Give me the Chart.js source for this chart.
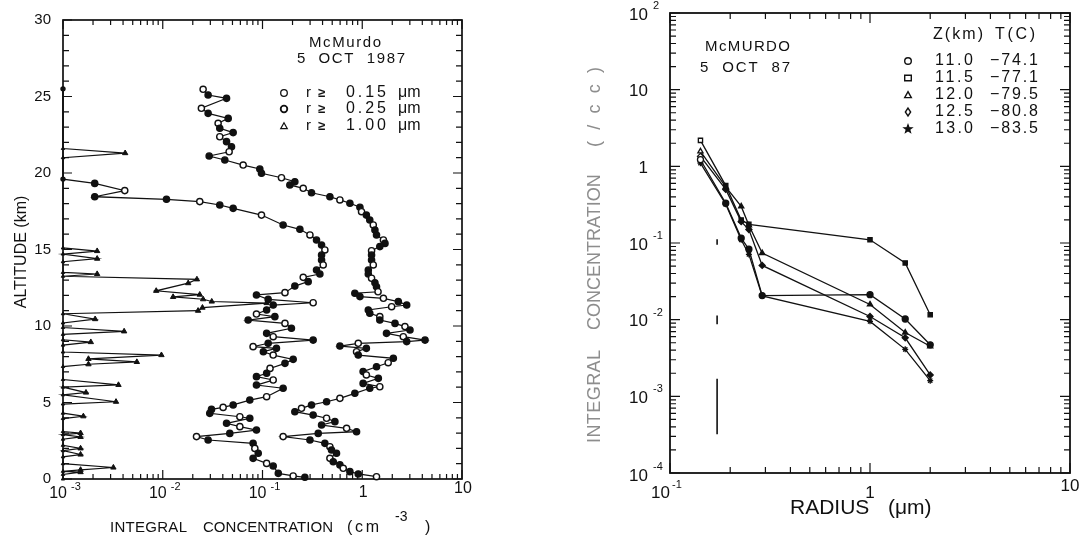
<!DOCTYPE html>
<html><head><meta charset="utf-8">
<script src="https://cdn.jsdelivr.net/npm/chart.js@4.4.1/dist/chart.umd.min.js"></script>
<style>
html,body{margin:0;padding:0;background:#fff;}
#wrap{position:relative;width:1088px;height:541px;overflow:hidden;background:#fff;}
canvas{position:absolute;top:0;}
</style></head><body>
<div id="wrap"><canvas id="c1" width="544" height="541" style="left:0"></canvas><canvas id="c2" width="544" height="541" style="left:544px"></canvas></div>
<script>
// ---------- LEFT PANEL DATA (altitude km, integral concentration cm^-3) ----------
const alt015 = [25.47,25.1,24.88,24.23,23.9,23.57,23.25,22.92,22.64,22.37,22.05,21.72,21.39,21.11,20.85,20.52,20.26,19.98,19.69,19.43,19.22,19.0,18.71,18.45,18.24,18.02,17.76,17.47,17.25,16.93,16.6,16.27,15.95,15.62,15.4,15.19,14.92,14.64,14.31,13.99,13.66,13.4,13.12,12.83,12.57,12.24,12.14,11.92,11.81,11.59,11.37,11.26,11.05,10.83,10.61,10.39,10.17,9.96,9.74,9.52,9.3,9.08,8.98,8.87,8.69,8.54,8.32,8.1,7.89,7.6,7.34,7.02,6.8,6.58,6.25,6.03,5.93,5.6,5.27,5.05,4.84,4.62,4.4,4.18,3.97,3.75,3.53,3.31,3.09,2.98,2.77,2.55,2.33,2.11,1.9,1.68,1.35,1.13,0.92,0.7,0.48,0.33,0.15];
const conc015 = [0.0254,0.0285,0.0436,0.0244,0.0285,0.0453,0.0359,0.0373,0.0508,0.0373,0.0436,0.0489,0.0463,0.0292,0.0419,0.064,0.094,0.0977,0.155,0.211,0.188,0.256,0.31,0.474,0.597,0.752,0.948,0.984,1.10,1.19,1.29,1.34,1.39,1.63,1.69,1.50,1.24,1.24,1.24,1.29,1.15,1.15,1.24,1.34,1.39,1.44,0.843,0.948,1.63,2.30,2.79,1.97,1.15,1.19,1.50,1.50,2.13,2.68,3.01,1.75,2.58,4.26,2.79,0.912,0.597,1.10,0.877,0.912,2.05,1.82,1.39,1.02,1.10,1.45,1.02,1.50,1.19,0.843,0.597,0.439,0.31,0.246,0.211,0.322,0.439,0.532,0.391,0.697,0.877,0.362,0.161,0.299,0.422,0.474,0.492,0.552,0.474,0.512,0.597,0.645,0.752,0.912,1.39];
const alt025 = [25.5,19.6,19.32,18.85,18.45,18.28,18.13,17.91,17.69,17.25,16.6,16.32,15.95,15.62,15.29,14.97,14.64,14.31,13.99,13.66,13.4,13.18,12.9,12.61,12.18,12.03,11.74,11.52,11.37,11.05,10.78,10.61,10.39,10.17,9.85,9.52,9.3,9.08,8.87,8.65,8.54,8.32,8.1,7.82,7.56,7.23,6.91,6.69,6.47,6.14,5.93,5.38,5.16,4.84,4.68,4.55,4.29,4.07,3.97,3.64,3.42,3.2,2.98,2.77,2.55,2.33,2.0,1.68,1.35,1.02,0.85,0.37,0.2,0.11];
const conc025 = [0.001,0.001,0.00208,0.00416,0.00208,0.0109,0.0235,0.0373,0.0508,0.0977,0.161,0.237,0.299,0.348,0.391,0.422,0.391,0.391,0.406,0.348,0.376,0.256,0.287,0.211,0.168,0.087,0.114,0.322,0.128,0.11,0.087,0.133,0.0718,0.168,0.195,0.11,0.128,0.322,0.114,0.0805,0.138,0.102,0.128,0.203,0.168,0.119,0.11,0.087,0.128,0.087,0.161,0.11,0.0746,0.0508,0.0403,0.0308,0.0296,0.0593,0.0746,0.0436,0.0593,0.087,0.047,0.0218,0.0285,0.0805,0.0838,0.0906,0.0805,0.11,0.128,0.144,0.203,0.266];
const alt100 = [25.5,21.6,21.3,21.0,15.1,14.9,14.7,14.4,14.2,13.5,13.4,13.25,13.05,12.8,12.3,12.05,11.9,11.75,11.6,11.5,11.2,11.0,10.8,10.45,10.2,9.9,9.65,9.45,9.1,8.95,8.75,8.3,8.1,7.85,7.65,7.5,7.35,6.5,6.15,6.0,5.65,5.5,5.05,4.9,4.3,4.1,3.95,3.1,3.0,2.9,2.75,2.6,2.2,2.0,1.85,1.6,1.45,1.0,0.75,0.6,0.5,0.45,0.3,0.0];
const conc100 = [0.001,0.001,0.0042,0.001,0.001,0.0022,0.001,0.0022,0.001,0.001,0.0022,0.001,0.022,0.018,0.0086,0.0235,0.0127,0.0254,0.031,0.11,0.025,0.0226,0.001,0.0021,0.001,0.001,0.0041,0.001,0.001,0.0019,0.001,0.001,0.0097,0.0018,0.0055,0.0018,0.001,0.001,0.0036,0.001,0.0017,0.001,0.0034,0.001,0.001,0.0016,0.001,0.001,0.0015,0.001,0.0015,0.001,0.001,0.0015,0.001,0.0015,0.001,0.001,0.0032,0.0015,0.001,0.0015,0.001,0.001];
const leftYTicks = [0,5,10,15,20,25,30];
const leftXTicks = [0.001,0.01,0.1,1,10];
const leftXBase  = ['10','10','10','1','10'];
const leftXSup   = ['-3','-2','-1','',''];
const leftLegend = ['0.15','0.25','1.00'];

// ---------- RIGHT PANEL DATA (radius um, integral concentration /cc) ----------
const radii = [0.142,0.19,0.227,0.248,0.289,1.0,1.5,2.0];
const n110 = [1.22,0.33,0.116,0.083,0.0206,0.0212,0.0102,0.0047];
const n115 = [2.18,0.56,0.20,0.175,null,0.11,0.055,0.0116];
const n120 = [1.57,0.54,0.30,0.17,0.074,0.0158,0.0068,0.0045];
const n125 = [1.35,0.50,0.19,0.15,0.051,0.011,0.0058,0.0019];
const n130 = [1.10,0.32,0.11,0.071,0.0204,0.0095,0.0041,0.0016];
const barX = 0.172;
const barLow  = [0.095,0.0087,0.00032];
const barHigh = [0.112,0.0113,0.0017];
const zLabels = ['11.0','11.5','12.0','12.5','13.0'];
const tLabels = ['\u221274.1','\u221277.1','\u221279.5','\u221280.8','\u221283.5'];
const rightYTicks = [100,10,1,0.1,0.01,0.001,0.0001];
const rightYBase = ['10','10','1','10','10','10','10'];
const rightYSup  = ['2','','','-1','-2','-3','-4'];
const rightXTicks = [0.1,1,10];
const rightXBase = ['10','1','10'];
const rightXSup  = ['-1','',''];

// ---------- helpers ----------
const FONT = '"Liberation Sans", Arial, Helvetica, sans-serif';
Chart.defaults.font.family = FONT;
const INK = '#111';

function pairs(xs, ys){ const out=[]; const n=Math.min(xs.length, ys.length); for(let i=0;i<n;i++){ if(ys[i]!==null && xs[i]!==null) out.push({x:xs[i], y:ys[i]}); } return out; }
function logTickList(min, max){
  const out=[]; const e0=Math.round(Math.log10(min)), e1=Math.round(Math.log10(max));
  for(let e=e0;e<e1;e++){ for(let m=1;m<10;m++){ out.push({v:m*Math.pow(10,e), major:m===1}); } }
  out.push({v:max, major:true}); return out;
}
function font(size){ return size+'px '+FONT; }
function supLabel(ctx, base, sup, x, y, size, supSize, anchor, gap, rise){
  ctx.letterSpacing='0px';
  ctx.font=font(size); const bw=ctx.measureText(base).width;
  ctx.font=font(supSize); const sw = sup ? ctx.measureText(sup).width + gap : 0;
  let x0;
  if(anchor==='baseRight') x0 = x - bw;
  else if(anchor==='right') x0 = x - bw - sw;
  else x0 = x - (bw+sw)/2;
  ctx.textAlign='left'; ctx.textBaseline='middle';
  ctx.font=font(size); ctx.fillText(base, x0, y);
  if(sup){ ctx.font=font(supSize); ctx.fillText(sup, x0+bw+gap, y-rise); }
}
function fitText(ctx, text, x, y, width){
  ctx.letterSpacing='0px';
  const w=ctx.measureText(text).width; const n=[...text].length;
  const ls = n>1 ? Math.max(0,(width-w)/(n-1)) : 0;
  ctx.letterSpacing = ls.toFixed(2)+'px';
  ctx.textAlign='left';
  ctx.fillText(text, x, y);
  ctx.letterSpacing='0px';
}
function marker(ctx, style, x, y, r, fill){
  ctx.beginPath();
  if(style==='circle'){ ctx.arc(x,y,r,0,Math.PI*2); }
  else if(style==='rect'){ ctx.rect(x-r,y-r*0.85,2*r,1.7*r); }
  else if(style==='triangle'){ ctx.moveTo(x,y-r); ctx.lineTo(x+r,y+r*0.8); ctx.lineTo(x-r,y+r*0.8); ctx.closePath(); }
  else if(style==='diamond'){ ctx.moveTo(x,y-r*1.2); ctx.lineTo(x+r*0.8,y); ctx.lineTo(x,y+r*1.2); ctx.lineTo(x-r*0.8,y); ctx.closePath(); }
  else if(style==='star'){ for(let i=0;i<10;i++){ const a=-Math.PI/2+i*Math.PI/5; const rr=i%2?r*0.5:r*1.2; const px=x+rr*Math.cos(a), py=y+rr*Math.sin(a); if(i===0) ctx.moveTo(px,py); else ctx.lineTo(px,py);} ctx.closePath(); }
  ctx.fillStyle = fill ? INK : '#fff'; ctx.fill();
  ctx.stroke();
}

// ---------- LEFT CHART ----------
const hollowEvery = (c)=> {
  const d = c.raw; if(d && d.x <= 0.001) return INK;
  return (c.dataIndex % 3 === 0 ? '#fff' : INK);
};
const axisSmall = (c)=> (c.raw && c.raw.x <= 0.001 ? 2 : 3.1);
const leftDeco = {
  id:'leftDeco',
  beforeDatasetsDraw(chart){
    const {ctx, chartArea:a, scales:{x,y}} = chart;
    ctx.save(); ctx.strokeStyle=INK; ctx.lineWidth=1.7;
    ctx.strokeRect(a.left,a.top,a.right-a.left,a.bottom-a.top);
    ctx.lineWidth=1.2; ctx.beginPath();
    logTickList(0.001,10).forEach(t=>{ const px=x.getPixelForValue(t.v); const L=t.major?9:5;
      ctx.moveTo(px,a.bottom); ctx.lineTo(px,a.bottom-L); ctx.moveTo(px,a.top); ctx.lineTo(px,a.top+L); });
    for(let k=0;k<=30;k++){ const py=y.getPixelForValue(k); const L=k%5===0?9:6;
      ctx.moveTo(a.left,py); ctx.lineTo(a.left+L,py); ctx.moveTo(a.right,py); ctx.lineTo(a.right-L,py); }
    ctx.stroke(); ctx.restore();
  },
  afterDraw(chart){
    const {ctx, chartArea:a, scales:{x,y}} = chart;
    ctx.save(); ctx.fillStyle=INK;
    ctx.font=font(15); ctx.textAlign='right'; ctx.textBaseline='middle';
    leftYTicks.forEach(v=> ctx.fillText(String(v), 51, y.getPixelForValue(v)));
    leftXTicks.forEach((v,i)=>{ const px=x.getPixelForValue(v);
      if(leftXSup[i]) supLabel(ctx, leftXBase[i], leftXSup[i], px+4, 494, 16, 11, 'baseRight', 4, 7);
      else supLabel(ctx, leftXBase[i], '', px+1, i===4?489:493, 16, 11, 'center', 0, 0);
    });
    // x title
    ctx.font=font(15); ctx.textBaseline='middle'; ctx.textAlign='left';
    fitText(ctx,'INTEGRAL',110,528,77);
    fitText(ctx,'CONCENTRATION',203,528,130);
    ctx.font=font(16); fitText(ctx,'(cm',347,528,32);
    ctx.font=font(14); ctx.fillText('-3',395,517);
    ctx.font=font(16); ctx.fillText(')',425,528);
    // y title
    ctx.save(); ctx.translate(22,252); ctx.rotate(-Math.PI/2);
    ctx.font=font(16); ctx.textAlign='center'; ctx.textBaseline='middle';
    ctx.fillText('ALTITUDE (km)',0,0); ctx.restore();
    // annotation
    ctx.font=font(15); ctx.textBaseline='middle';
    fitText(ctx,'McMurdo',309,43,72);
    fitText(ctx,'5  OCT  1987',297,59,108);
    // legend
    const rows=[93,109,126];
    ctx.strokeStyle=INK; ctx.lineWidth=1.3;
    marker(ctx,'circle',284,rows[0],3.3,false);
    ctx.lineWidth=1.8; marker(ctx,'circle',284,rows[1],3.3,false);
    ctx.lineWidth=1.2; marker(ctx,'triangle',284,rows[2],3.3,false);
    ctx.fillStyle=INK;
    rows.forEach((ry,i)=>{
      ctx.font=font(15); ctx.textAlign='left';
      ctx.fillText('r',306,ry);
      ctx.font='bold 13px '+FONT; ctx.fillText('\u2265',318,ry);
      ctx.font=font(16);
      fitText(ctx,leftLegend[i],346,ry,40);
      ctx.font=font(16); ctx.fillText('\u03bcm',398,ry);
    });
    ctx.restore();
  }
};

new Chart(document.getElementById('c1'), {
  type:'scatter',
  data:{ datasets:[
    { data:pairs(conc015, alt015), showLine:true, borderColor:INK, borderWidth:1.2, pointStyle:'circle', pointRadius:3.1,
      pointBorderColor:INK, pointBorderWidth:1.4, pointBackgroundColor:hollowEvery, clip:false },
    { data:pairs(conc025, alt025), showLine:true, borderColor:INK, borderWidth:1.2, pointStyle:'circle', pointRadius:axisSmall,
      pointBorderColor:INK, pointBorderWidth:1.4, pointBackgroundColor:hollowEvery, clip:false },
    { data:pairs(conc100, alt100), showLine:true, borderColor:INK, borderWidth:1.2, pointStyle:'triangle', pointRadius:axisSmall,
      pointBorderColor:INK, pointBorderWidth:1, pointBackgroundColor:INK, clip:false }
  ]},
  options:{
    responsive:false, animation:false, devicePixelRatio:1,
    layout:{ padding:{ left:63, right:82, top:20, bottom:62 } },
    plugins:{ legend:{display:false}, tooltip:{enabled:false} },
    elements:{ line:{ tension:0 } },
    scales:{
      x:{ type:'logarithmic', min:0.001, max:10, display:false },
      y:{ type:'linear', min:0, max:30, display:false }
    }
  },
  plugins:[leftDeco]
});

// ---------- RIGHT CHART ----------
const OFF = 544;
const rightDeco = {
  id:'rightDeco',
  beforeDatasetsDraw(chart){
    const {ctx, chartArea:a, scales:{x,y}} = chart;
    ctx.save(); ctx.strokeStyle=INK; ctx.lineWidth=1.8;
    ctx.strokeRect(a.left,a.top,a.right-a.left,a.bottom-a.top);
    ctx.lineWidth=1.2; ctx.beginPath();
    logTickList(0.1,10).forEach(t=>{ const px=x.getPixelForValue(t.v); const L=t.major?10:6;
      ctx.moveTo(px,a.bottom); ctx.lineTo(px,a.bottom-L); ctx.moveTo(px,a.top); ctx.lineTo(px,a.top+L); });
    logTickList(0.0001,100).forEach(t=>{ const py=y.getPixelForValue(t.v); const L=t.major?10:6;
      ctx.moveTo(a.left,py); ctx.lineTo(a.left+L,py); ctx.moveTo(a.right,py); ctx.lineTo(a.right-L,py); });
    ctx.stroke(); ctx.restore();
  },
  afterDraw(chart){
    const {ctx, chartArea:a, scales:{x,y}} = chart;
    ctx.save(); ctx.fillStyle=INK;
    rightYTicks.forEach((v,i)=>{ const py=y.getPixelForValue(v)+ (i===rightYTicks.length-1?3:2);
      supLabel(ctx, rightYBase[i], rightYSup[i], 648-OFF, py, 17, 11, 'baseRight', 5, 9); });
    rightXTicks.forEach((v,i)=>{ const px=x.getPixelForValue(v);
      if(rightXSup[i]) supLabel(ctx, rightXBase[i], rightXSup[i], px, 493, 17, 11, 'baseRight', 2, 8);
      else supLabel(ctx, rightXBase[i], '', px, i===2?486:493, 17, 11, 'center', 0, 0);
    });
    // x title
    ctx.font=font(21); ctx.textBaseline='middle'; ctx.textAlign='left';
    ctx.fillText('RADIUS',790-OFF,508);
    ctx.fillText('(\u03bcm)',888-OFF,508);
    // y title (faded)
    ctx.save(); ctx.translate(595-OFF,0); ctx.rotate(-Math.PI/2);
    ctx.fillStyle='#8d8d8d'; ctx.font=font(18); ctx.textBaseline='middle';
    fitText(ctx,'INTEGRAL',-443,0,93);
    fitText(ctx,'CONCENTRATION',-330,0,143);
    fitText(ctx,'(/cc)',-147,0,80);
    ctx.restore();
    // annotation
    ctx.fillStyle=INK; ctx.font=font(15); ctx.textBaseline='middle';
    fitText(ctx,'McMURDO',705-OFF,47,85);
    fitText(ctx,'5  OCT  87',700-OFF,68,90);
    // legend
    ctx.font=font(16);
    fitText(ctx,'Z(km)',933-OFF,35,50);
    fitText(ctx,'T(C)',995-OFF,35,40);
    const rows=[61,78,95,112,129];
    const styles=['circle','rect','triangle','diamond','star'];
    ctx.strokeStyle=INK; ctx.lineWidth=1.4;
    rows.forEach((ry,i)=>{
      marker(ctx, styles[i], 908-OFF, ry, 3.3, styles[i]==='star');
      ctx.fillStyle=INK; ctx.font=font(16);
      fitText(ctx, zLabels[i], 935-OFF, ry, 38);
      fitText(ctx, tLabels[i], 990-OFF, ry, 48);
    });
    ctx.restore();
  }
};
function rSeries(vals, style){
  return { data:pairs(radii, vals), showLine:true, borderColor:INK, borderWidth:1.3, pointStyle:style, pointRadius:3,
    pointBorderColor:INK, pointBorderWidth:1.3, pointBackgroundColor:(c)=> (c.dataIndex===0 ? '#fff' : INK), clip:false };
}
const barData = [];
barLow.forEach((lo,i)=>{ barData.push({x:barX,y:lo}); barData.push({x:barX,y:barHigh[i]}); barData.push({x:barX,y:null}); });

new Chart(document.getElementById('c2'), {
  type:'scatter',
  data:{ datasets:[
    rSeries(n110,'circle'), rSeries(n115,'rect'), rSeries(n120,'triangle'), rSeries(n125,'rectRot'), rSeries(n130,'star'),
    { data:barData, showLine:true, spanGaps:false, borderColor:INK, borderWidth:1.6, pointRadius:0 }
  ]},
  options:{
    responsive:false, animation:false, devicePixelRatio:1,
    layout:{ padding:{ left:126, right:18, top:13, bottom:68 } },
    plugins:{ legend:{display:false}, tooltip:{enabled:false} },
    elements:{ line:{ tension:0 } },
    scales:{
      x:{ type:'logarithmic', min:0.1, max:10, display:false },
      y:{ type:'logarithmic', min:0.0001, max:100, display:false }
    }
  },
  plugins:[rightDeco]
});
</script>
</body></html>
